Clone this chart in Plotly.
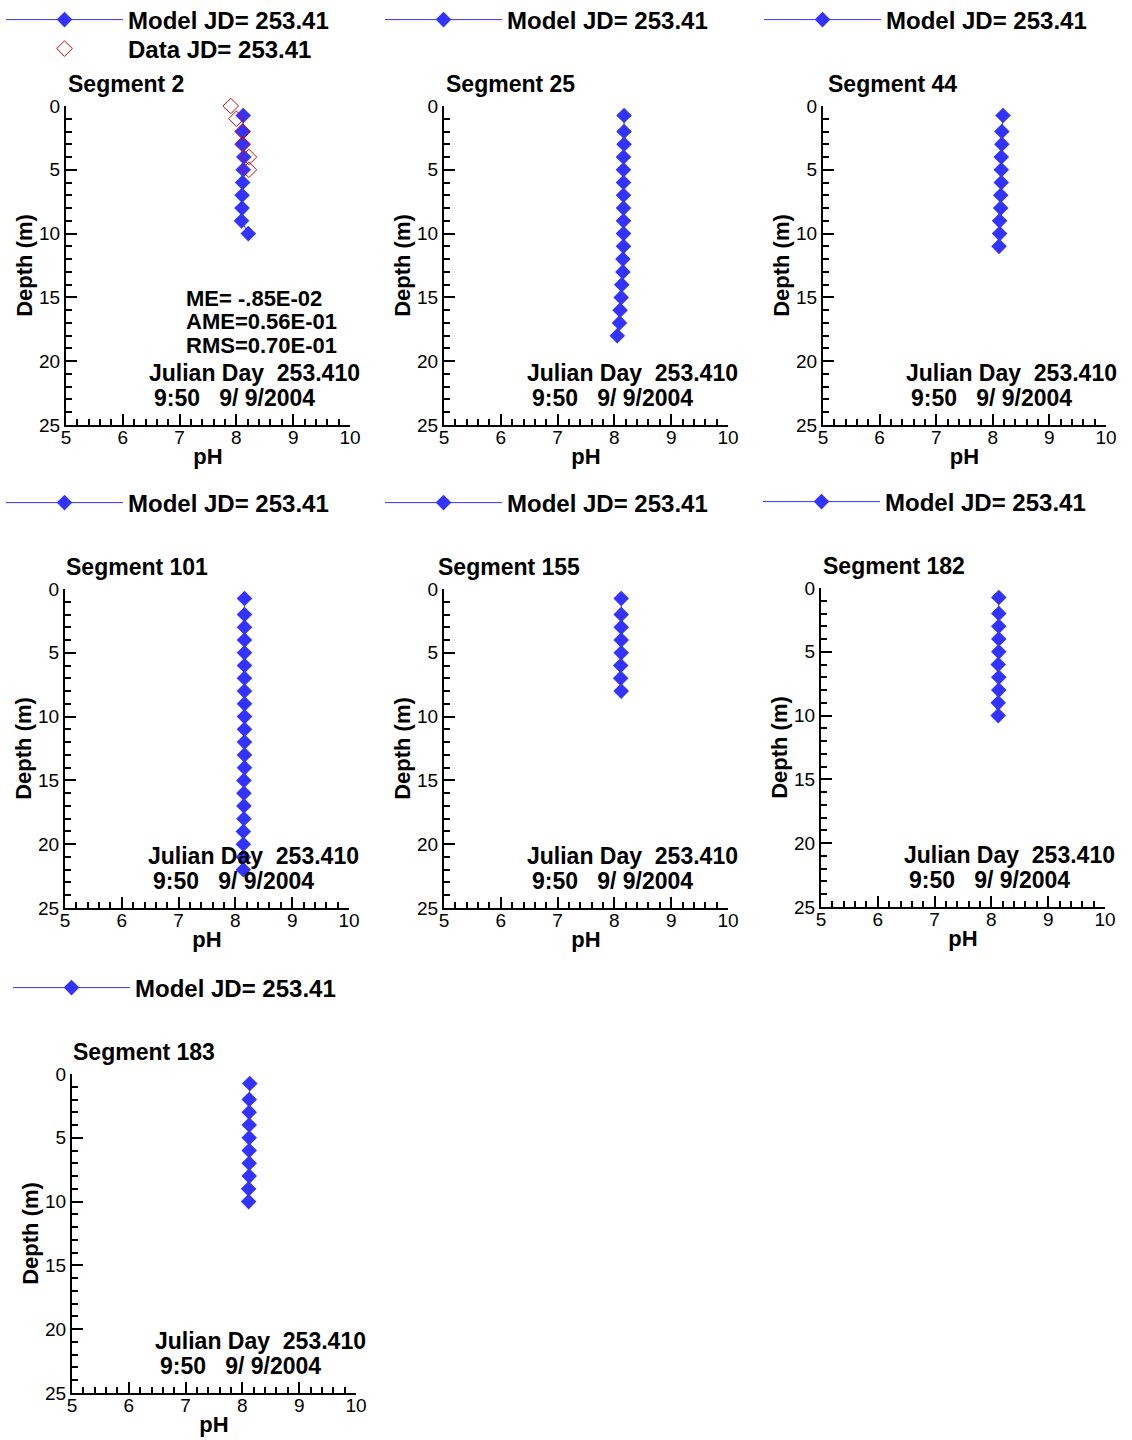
import plotly.graph_objects as go

# ---- vertical profiles of pH, Julian day 253.410 ----
MODEL_NAME = "Model JD= 253.41"
DATA_NAME = "Data JD= 253.41"

seg2_depth = [0.75, 2, 3, 4, 5, 6, 7, 8, 9, 10]
seg2_ph = [8.12, 8.11, 8.11, 8.13, 8.12, 8.11, 8.10, 8.10, 8.09, 8.21]
seg2_obs_depth = [0, 1, 2, 3, 4, 5]
seg2_obs_ph = [7.90, 8.00, 8.11, 8.11, 8.22, 8.22]

seg25_depth = [0.75] + list(range(2, 19))
seg25_ph = [8.17, 8.17, 8.17, 8.16, 8.16, 8.16, 8.16, 8.16, 8.16,
            8.16, 8.16, 8.15, 8.15, 8.13, 8.12, 8.10, 8.09, 8.05]

seg44_depth = [0.75] + list(range(2, 12))
seg44_ph = [8.18, 8.16, 8.16, 8.15, 8.15, 8.15, 8.14, 8.14, 8.12, 8.12, 8.11]

seg101_depth = [0.75] + list(range(2, 23))
seg101_ph = [8.16, 8.16, 8.16, 8.16, 8.16, 8.16, 8.16, 8.16, 8.16, 8.16, 8.16,
             8.16, 8.16, 8.16, 8.15, 8.15, 8.15, 8.15, 8.14, 8.14, 8.14, 8.14]

seg155_depth = [0.75] + list(range(2, 9))
seg155_ph = [8.12, 8.12, 8.12, 8.12, 8.12, 8.11, 8.11, 8.12]

seg182_depth = [0.75] + list(range(2, 11))
seg182_ph = [8.13, 8.13, 8.13, 8.13, 8.13, 8.12, 8.13, 8.13, 8.12, 8.12]

seg183_depth = [0.75] + list(range(2, 11))
seg183_ph = [8.13, 8.12, 8.12, 8.12, 8.12, 8.12, 8.12, 8.12, 8.11, 8.11]

segment_titles = ["Segment 2", "Segment 25", "Segment 44", "Segment 101",
                  "Segment 155", "Segment 182", "Segment 183"]
profiles_depth = [seg2_depth, seg25_depth, seg44_depth, seg101_depth,
                  seg155_depth, seg182_depth, seg183_depth]
profiles_ph = [seg2_ph, seg25_ph, seg44_ph, seg101_ph,
               seg155_ph, seg182_ph, seg183_ph]

stats_lines = ["ME= -.85E-02", "AME=0.56E-01", "RMS=0.70E-01"]
time_lines = ["Julian Day  253.410", "9:50   9/ 9/2004"]

x_ticks = [5, 6, 7, 8, 9, 10]
y_ticks = [0, 5, 10, 15, 20, 25]

# ---- page geometry (pixels) ----
W, H = 1132, 1440
FONT = "Liberation Sans, Arial, Helvetica, sans-serif"
BLUE = "#3333ff"
RED = "#e00000"

# plot-area boxes: (left, right, top, bottom) in pixels
boxes = [
    (66, 350, 106, 425), (444, 728, 106, 425), (823, 1106, 106, 425),
    (65, 349, 589, 908), (444, 728, 589, 908), (821, 1105, 588, 907),
    (72, 356, 1074, 1393),
]
# legend anchor (left, vertical centre) in pixels
legend_pos = [
    (1, 20), (380, 20), (759, 20),
    (1, 503), (380, 503), (758, 502),
    (8, 988),
]
data_legend_pos = (1, 49)
title_shift = [0, 0, 3, -1, -8, 0, -1]
ITEM_W = 117


def fx(p):
    return p / W


def fy(p):
    return 1 - p / H


def legend_cfg(x, y):
    return dict(
        x=fx(x), y=fy(y), xanchor="left", yanchor="middle",
        xref="paper", yref="paper",
        itemwidth=ITEM_W, bgcolor="rgba(0,0,0,0)", borderwidth=0,
        tracegroupgap=0, itemclick=False, itemdoubleclick=False,
        font=dict(size=24, family=FONT, weight="bold", color="black"),
    )


fig = go.Figure()
layout = dict(
    width=W, height=H,
    margin=dict(l=0, r=0, t=0, b=0, autoexpand=False),
    paper_bgcolor="white", plot_bgcolor="white",
    font=dict(family=FONT, color="black"),
    showlegend=True,
    annotations=[],
)

bold = dict(family=FONT, weight="bold", color="black")

for i, (title, dep, ph) in enumerate(zip(segment_titles, profiles_depth, profiles_ph)):
    n = i + 1
    sfx = "" if n == 1 else str(n)
    xa, ya = "x" + sfx, "y" + sfx
    leg = "legend" + sfx
    left, right, top, bottom = boxes[i]

    fig.add_trace(go.Scatter(
        x=ph, y=dep, mode="lines+markers", name=MODEL_NAME,
        xaxis=xa, yaxis=ya, legend=leg, cliponaxis=False, showlegend=True,
        line=dict(color=BLUE, width=1),
        marker=dict(symbol="diamond", size=12, color=BLUE),
    ))
    if i == 0:
        fig.add_trace(go.Scatter(
            x=seg2_obs_ph, y=seg2_obs_depth, mode="markers", name=DATA_NAME,
            xaxis=xa, yaxis=ya, legend="legend8", cliponaxis=False,
            showlegend=True,
            marker=dict(symbol="diamond-open", size=12, color=RED,
                        line=dict(color=RED, width=1)),
        ))
        layout["legend8"] = legend_cfg(*data_legend_pos)

    layout["xaxis" + sfx] = dict(
        domain=[fx(left), fx(right)], anchor=ya, range=[5, 10],
        automargin=False,
        tickvals=x_ticks, ticks="inside", ticklen=11, tickwidth=1.5,
        tickcolor="black", showline=True, linecolor="black", linewidth=2,
        showgrid=False, zeroline=False, fixedrange=True,
        ticklabelstandoff=-6,
        minor=dict(dtick=0.2, tick0=5, ticks="inside", ticklen=6,
                   tickwidth=1.5, tickcolor="black", showgrid=False),
        tickfont=dict(size=19, family=FONT, color="black"),
        title=dict(text="pH", standoff=2, font=dict(size=22, **bold)),
    )
    layout["yaxis" + sfx] = dict(
        domain=[fy(bottom), fy(top)], anchor=xa, range=[25, 0],
        automargin=False,
        tickvals=y_ticks, ticks="inside", ticklen=11, tickwidth=1.5,
        tickcolor="black", showline=True, linecolor="black", linewidth=2,
        showgrid=False, zeroline=False, fixedrange=True,
        minor=dict(dtick=1, tick0=0, ticks="inside", ticklen=6,
                   tickwidth=1.5, tickcolor="black", showgrid=False),
        tickfont=dict(size=19, family=FONT, color="black"),
        title=dict(text="Depth (m)", standoff=0, font=dict(size=22, **bold)),
    )
    layout[leg] = legend_cfg(*legend_pos[i])

    # panel title above the plot area
    layout["annotations"].append(dict(
        text=title, xref=xa + " domain", yref=ya + " domain",
        x=0, y=1, xanchor="left", yanchor="bottom", yshift=7,
        xshift=title_shift[i], showarrow=False,
        font=dict(size=23, **bold),
    ))
    # time stamp
    for text, xv, yv in [(time_lines[0], 6.43, 20.95), (time_lines[1], 6.52, 22.85)]:
        layout["annotations"].append(dict(
            text=text, xref=xa, yref=ya, x=xv, y=yv,
            xanchor="left", yanchor="middle", showarrow=False,
            font=dict(size=23, **bold),
        ))
    if i == 0:
        for text, yv in zip(stats_lines, [15.1, 16.9, 18.75]):
            layout["annotations"].append(dict(
                text=text, xref=xa, yref=ya, x=7.08, y=yv,
                xanchor="left", yanchor="middle", showarrow=False,
                font=dict(size=22, **bold),
            ))

fig.update_layout(**layout)
fig.write_html("out.html")
